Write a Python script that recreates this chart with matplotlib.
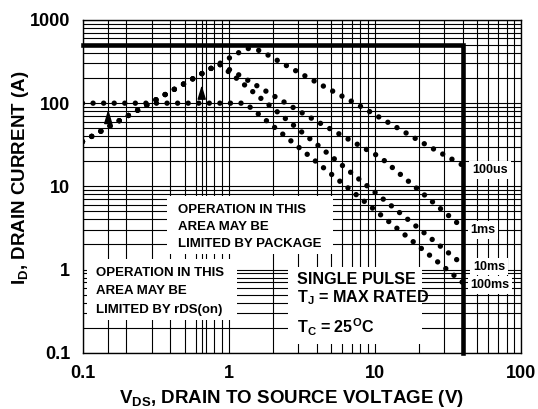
import matplotlib
matplotlib.use("Agg")
import matplotlib.pyplot as plt
from matplotlib.patches import Rectangle

plt.rcParams['font.family'] = ['Liberation Sans', 'DejaVu Sans']
plt.rcParams['font.weight'] = 'bold'
plt.rcParams['mathtext.fontset'] = 'custom'
plt.rcParams['mathtext.rm'] = 'Liberation Sans:bold'
plt.rcParams['mathtext.it'] = 'Liberation Sans:bold'
plt.rcParams['mathtext.bf'] = 'Liberation Sans:bold'

# ---- data ----
v_100us = [0.1, 1.2, 1.37, 1.65, 2.5, 4.33, 7.58, 13.0, 22.5, 40]
i_100us = [34.5, 414, 455, 428, 282, 165, 97, 55.8, 31.6, 18]
v_1ms = [0.1, 0.86, 1.13, 3.29, 11.0, 40]
i_1ms = [34.5, 297, 228, 74, 22.2, 3.2]
v_10ms = [0.1, 0.86, 40]
i_10ms = [34.5, 297, 1.15]
v_100ms = [0.1, 1.3, 40]
i_100ms = [100, 100, 0.70]
i_max = 500
v_max = 40
arrow_v = [0.15, 0.655]
arrow_tip = [84, 165]
arrow_tail = [64, 120]
x_ticks = [0.1, 1, 10, 100]
x_ticklabels = ['0.1', '1', '10', '100']
y_ticks = [0.1, 1, 10, 100, 1000]
y_ticklabels = ['0.1', '1', '10', '100', '1000']
curve_labels = ['100us', '1ms', '10ms', '100ms']

W, H = 538, 409
fig = plt.figure(figsize=(W / 100, H / 100), dpi=100)
L, R, T, B = 82.5, 520.7, 20.0, 352.7
ax = fig.add_axes([L / W, 1 - B / H, (R - L) / W, (B - T) / H])
ax.set_xscale('log')
ax.set_yscale('log')
ax.set_xlim(0.1, 100)
ax.set_ylim(0.1, 1000)

ax.set_axisbelow(True)
ax.grid(which='both', color='black', lw=0.8)
for s in ax.spines.values():
    s.set_linewidth(1.0)
ax.tick_params(which='both', length=0)
ax.set_xticks(x_ticks)
ax.set_xticklabels(x_ticklabels, fontsize=13, fontweight='bold')
ax.set_yticks(y_ticks)
ax.set_yticklabels(y_ticklabels, fontsize=13, fontweight='bold')
ax.tick_params(axis='x', which='both', pad=8.5)
ax.tick_params(axis='y', which='both', pad=9)

# extra vertical lines for arrows
for v in arrow_v:
    ax.axvline(v, color='black', lw=0.8, zorder=0.6)

dot_style = dict(color='black', lw=3.9, linestyle=(0, (0.001, 1.95)),
                 dash_capstyle='round', zorder=3)
ax.plot(v_100us, i_100us, **dot_style)
ax.plot(v_1ms, i_1ms, **dot_style)
ax.plot(v_10ms, i_10ms, **dot_style)
ax.plot(v_100ms, i_100ms, **dot_style)

# limit lines
ax.plot([0.1, v_max, v_max], [i_max, i_max, 0.1], color='black', lw=3.3,
        solid_joinstyle='miter', zorder=4, clip_on=False)

for v, tip, tail in zip(arrow_v, arrow_tip, arrow_tail):
    ax.annotate('', xy=(v, tip), xytext=(v, tail),
                arrowprops=dict(arrowstyle='-|>,head_length=0.6,head_width=0.18',
                                mutation_scale=14, color='black', lw=1,
                                shrinkA=0, shrinkB=0), zorder=4)

def fx(x):
    return x / W

def fy(y):
    return 1 - y / H

def box(x0, y0, x1, y1):
    fig.add_artist(Rectangle((fx(x0), fy(y1)), fx(x1) - fx(x0), fy(y0) - fy(y1),
                             transform=fig.transFigure, facecolor='white',
                             edgecolor='none', zorder=1))

box(167, 196, 333, 254)
box(87, 259, 237, 320)
box(288, 267, 422, 344)

txt = dict(fontsize=9.5, fontweight='bold', ha='left', va='center', zorder=2)
for k, s in enumerate(['OPERATION IN THIS', 'AREA MAY BE', 'LIMITED BY PACKAGE']):
    fig.text(fx(178.5), fy(210.5 + 16.5 * k), s, **txt)
for k, s in enumerate(['OPERATION IN THIS', 'AREA MAY BE', 'LIMITED BY rDS(on)']):
    fig.text(fx(96.5), fy(272.5 + 18.5 * k), s, **txt)

txt2 = dict(fontsize=11.6, fontweight='bold', ha='left', va='center', zorder=2)
fig.text(fx(297), fy(279), 'SINGLE PULSE', **txt2)
fig.text(fx(297), fy(298), r'T$_\mathrm{J}$ = MAX RATED', **txt2)
fig.text(fx(297), fy(327), r'T$_\mathrm{C}$ = 25$^\mathrm{O}$C', **txt2)

lab_pos = [(490, 170), (483, 230), (489, 266.5), (490, 285)]
for s, (x, y) in zip(curve_labels, lab_pos):
    fig.text(fx(x), fy(y), s, fontsize=9, fontweight='bold', ha='center',
             va='center', zorder=2,
             bbox=dict(facecolor='white', edgecolor='none', pad=2.0))

fig.text(fx(291.5), fy(398.5), r'V$_\mathrm{DS}$, DRAIN TO SOURCE VOLTAGE (V)',
         fontsize=13.5, fontweight='bold', ha='center', va='center')
fig.text(fx(21), fy(177.5), r'I$_\mathrm{D}$, DRAIN CURRENT (A)',
         fontsize=13.5, fontweight='bold', ha='center', va='center', rotation=90)

fig.savefig('out.png', dpi=100)
